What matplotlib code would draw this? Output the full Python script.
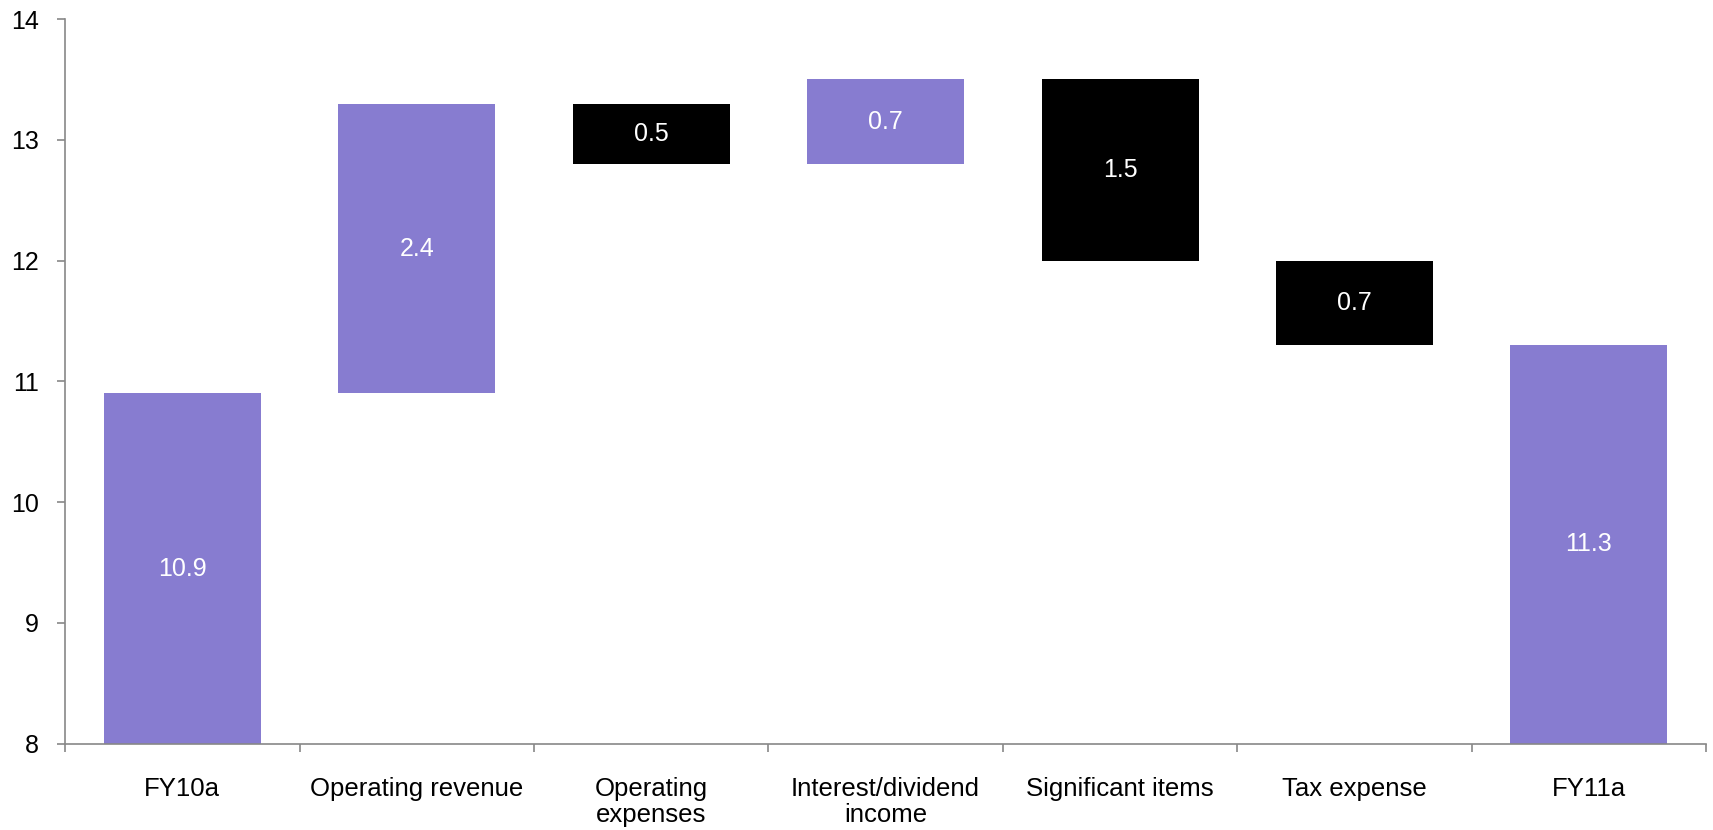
import matplotlib.pyplot as plt
import numpy as np

plt.rcParams['font.family'] = ['Liberation Sans', 'DejaVu Sans']

categories = ['FY10a', 'Operating revenue', 'Operating\nexpenses',
              'Interest/dividend\nincome', 'Significant items', 'Tax expense', 'FY11a']
# bottom / top of each waterfall block
bottoms = [8.0, 10.9, 12.8, 12.8, 12.0, 11.3, 8.0]
tops = [10.9, 13.3, 13.3, 13.5, 13.5, 12.0, 11.3]
labels = ['10.9', '2.4', '0.5', '0.7', '1.5', '0.7', '11.3']
kinds = ['up', 'up', 'down', 'up', 'down', 'down', 'up']

purple = '#877cd0'
colors = [purple if k == 'up' else 'black' for k in kinds]

fig = plt.figure(figsize=(17.13, 8.30), dpi=100)
ax = fig.add_axes([0.038, 0.104, 0.958, 0.873])

x = np.arange(len(categories))
heights = np.array(tops) - np.array(bottoms)
ax.bar(x, heights, bottom=bottoms, width=0.67, color=colors, zorder=2)

for xi, b, t, lab in zip(x, bottoms, tops, labels):
    ax.text(xi, (b + t) / 2, lab, ha='center', va='center', color='white', fontsize=18)

ax.set_xlim(-0.5, len(categories) - 0.5)
ax.set_ylim(8, 14)
ax.set_yticks(range(8, 15))

ax.set_xticks(x)
ax.set_xticklabels(categories, fontsize=18.5, linespacing=1.12, va='top')
ax.set_xticks(np.arange(-0.5, len(categories)), minor=True)
ax.tick_params(axis='x', which='major', length=0, pad=24)
ax.tick_params(axis='x', which='minor', length=6, width=1.2, color='#888888', direction='out')
ax.tick_params(axis='y', labelsize=18, length=6, width=1.2, color='#888888', pad=13)

for s in ['top', 'right']:
    ax.spines[s].set_visible(False)
for s in ['left', 'bottom']:
    ax.spines[s].set_color('#888888')
    ax.spines[s].set_linewidth(1.2)

fig.savefig('out.png', dpi=100)
